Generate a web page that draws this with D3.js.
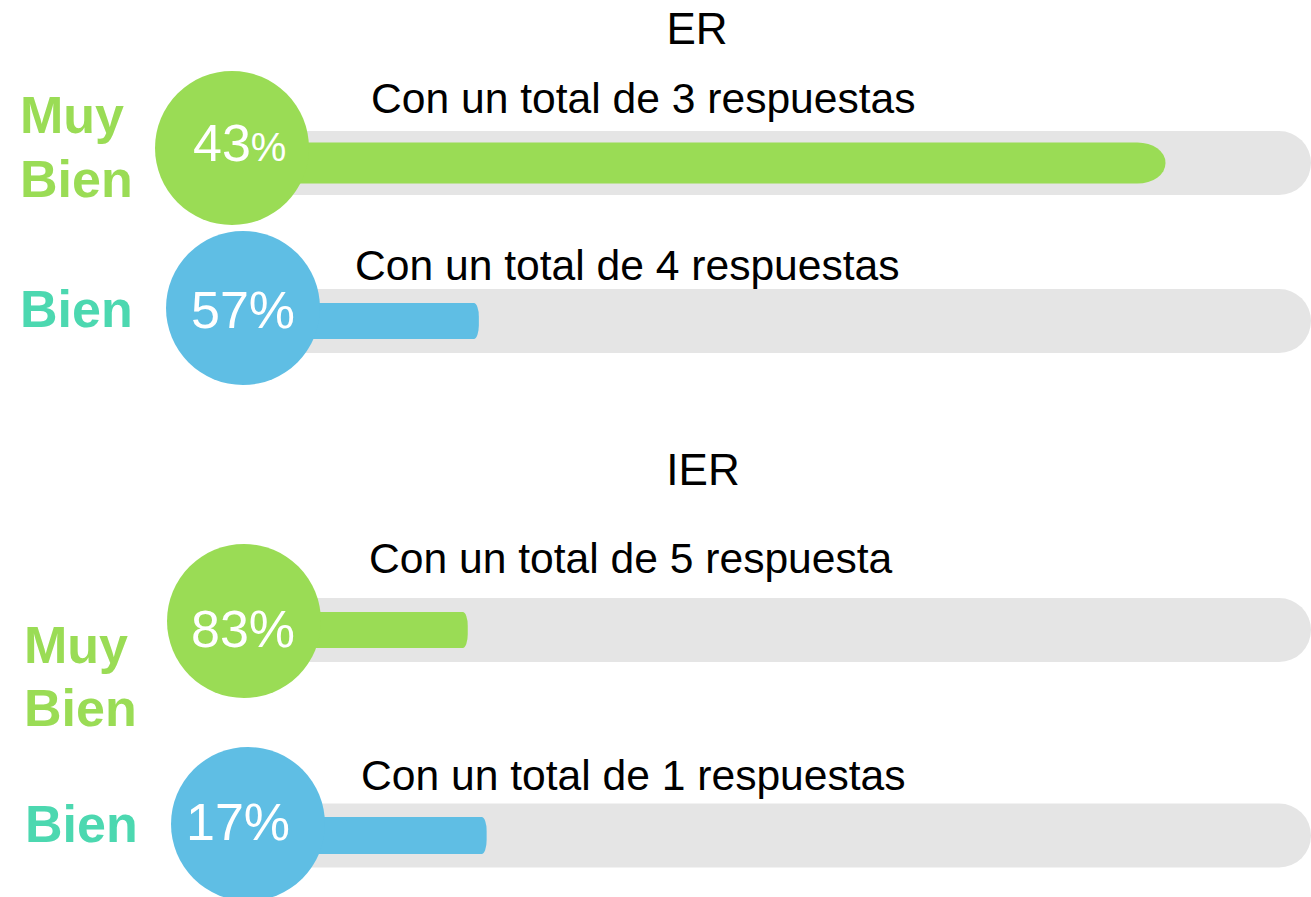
<!DOCTYPE html>
<html>
<head>
<meta charset="utf-8">
<script src="https://cdn.jsdelivr.net/npm/d3@7"></script>
<style>
  html, body { margin: 0; padding: 0; background: #fff; }
  svg { display: block; font-family: "Liberation Sans", Arial, sans-serif; }
</style>
</head>
<body>
<svg id="chart" width="1311" height="897"></svg>
<script>
// ---- data ----
const sections = ["ER", "IER"];
const rowSection = ["ER", "ER", "IER", "IER"];
const categories = ["Muy Bien", "Bien", "Muy Bien", "Bien"];
const percentNum = ["43", "57", "83", "17"];
const percentSign = ["%", "%", "%", "%"];
const responses = [
  "Con un total de 3 respuestas",
  "Con un total de 4 respuestas",
  "Con un total de 5 respuesta",
  "Con un total de 1 respuestas"
];
// filled length of each bar (0-100 scale of the track)
const barFill = [86.9, 25.1, 24.1, 25.8];

// ---- layout / styles ----
const W = 1311, H = 897;
const colors = { "Muy Bien": "#9adc55", "Bien": "#5fbee4" };
const labelColors = { "Muy Bien": "#9adc55", "Bien": "#4cd8b0" };
const trackColor = "#e5e5e5";
const layout = [
  { cx: 232, cy: 148, trackY: 163, barH: 41, capR: 28, capRy: 20, labelX: 20, labelBase: [133, 197], pctX: 193, pctBase: 161, respX: 371, respBase: 112.5 },
  { cx: 243, cy: 308, trackY: 321, barH: 36, capR: 5,  capRy: 14, labelX: 20, labelBase: [327],      pctX: 191, pctBase: 328, respX: 355, respBase: 280 },
  { cx: 244, cy: 621, trackY: 630, barH: 36, capR: 5,  capRy: 14, labelX: 24, labelBase: [663, 726], pctX: 191, pctBase: 647, respX: 369, respBase: 573 },
  { cx: 248, cy: 824, trackY: 835.5, barH: 37, capR: 5, capRy: 14, labelX: 25, labelBase: [842],     pctX: 186, pctBase: 840, respX: 361, respBase: 790 }
];
const sectionTitle = { "ER": { x: 697, base: 44 }, "IER": { x: 703, base: 485 } };
const circleR = 77, trackH = 64, trackEnd = 1311;

const svg = d3.select("#chart");
const x = d3.scaleLinear().domain([0, 100]).range([200, trackEnd]);

// titles
svg.selectAll("text.title").data(sections).join("text")
  .attr("class", "title")
  .attr("x", d => sectionTitle[d].x)
  .attr("y", d => sectionTitle[d].base)
  .attr("text-anchor", "middle")
  .attr("font-size", 44)
  .attr("fill", "#000")
  .text(d => d);

const rows = svg.selectAll("g.row").data(categories.map((c, i) => ({
  cat: c, sec: rowSection[i], num: percentNum[i], sign: percentSign[i],
  resp: responses[i], fill: barFill[i], L: layout[i], i
}))).join("g").attr("class", "row");

// track
rows.append("rect")
  .attr("x", d => d.L.cx)
  .attr("y", d => d.L.trackY - trackH / 2)
  .attr("width", d => trackEnd - d.L.cx)
  .attr("height", trackH)
  .attr("rx", 32).attr("ry", 32)
  .attr("fill", trackColor);

// filled bar
rows.append("rect")
  .attr("x", d => d.L.cx)
  .attr("y", d => d.L.trackY - d.L.barH / 2)
  .attr("width", d => x(d.fill) - d.L.cx)
  .attr("height", d => d.L.barH)
  .attr("rx", d => d.L.capR).attr("ry", d => d.L.capRy)
  .attr("fill", d => colors[d.cat]);

// circle
rows.append("circle")
  .attr("cx", d => d.L.cx)
  .attr("cy", d => d.L.cy)
  .attr("r", circleR)
  .attr("fill", d => colors[d.cat]);

// percentage text
rows.append("text")
  .attr("x", d => d.L.pctX)
  .attr("y", d => d.L.pctBase)
  .attr("fill", "#fff")
  .attr("font-size", 52)
  .each(function(d) {
    const t = d3.select(this);
    t.append("tspan").text(d.num);
    t.append("tspan").attr("font-size", d.i === 0 ? 40 : 52).text(d.sign);
  });

// response text
rows.append("text")
  .attr("x", d => d.L.respX)
  .attr("y", d => d.L.respBase)
  .attr("font-size", 42.6)
  .attr("fill", "#000")
  .text(d => d.resp);

// category labels
rows.each(function(d) {
  const words = d.cat.split(" ");
  d3.select(this).selectAll("text.cat").data(words).join("text")
    .attr("class", "cat")
    .attr("x", d.L.labelX)
    .attr("y", (w, j) => d.L.labelBase[j])
    .attr("font-size", 52)
    .attr("font-weight", "bold")
    .attr("fill", labelColors[d.cat])
    .text(w => w);
});
</script>
</body>
</html>
